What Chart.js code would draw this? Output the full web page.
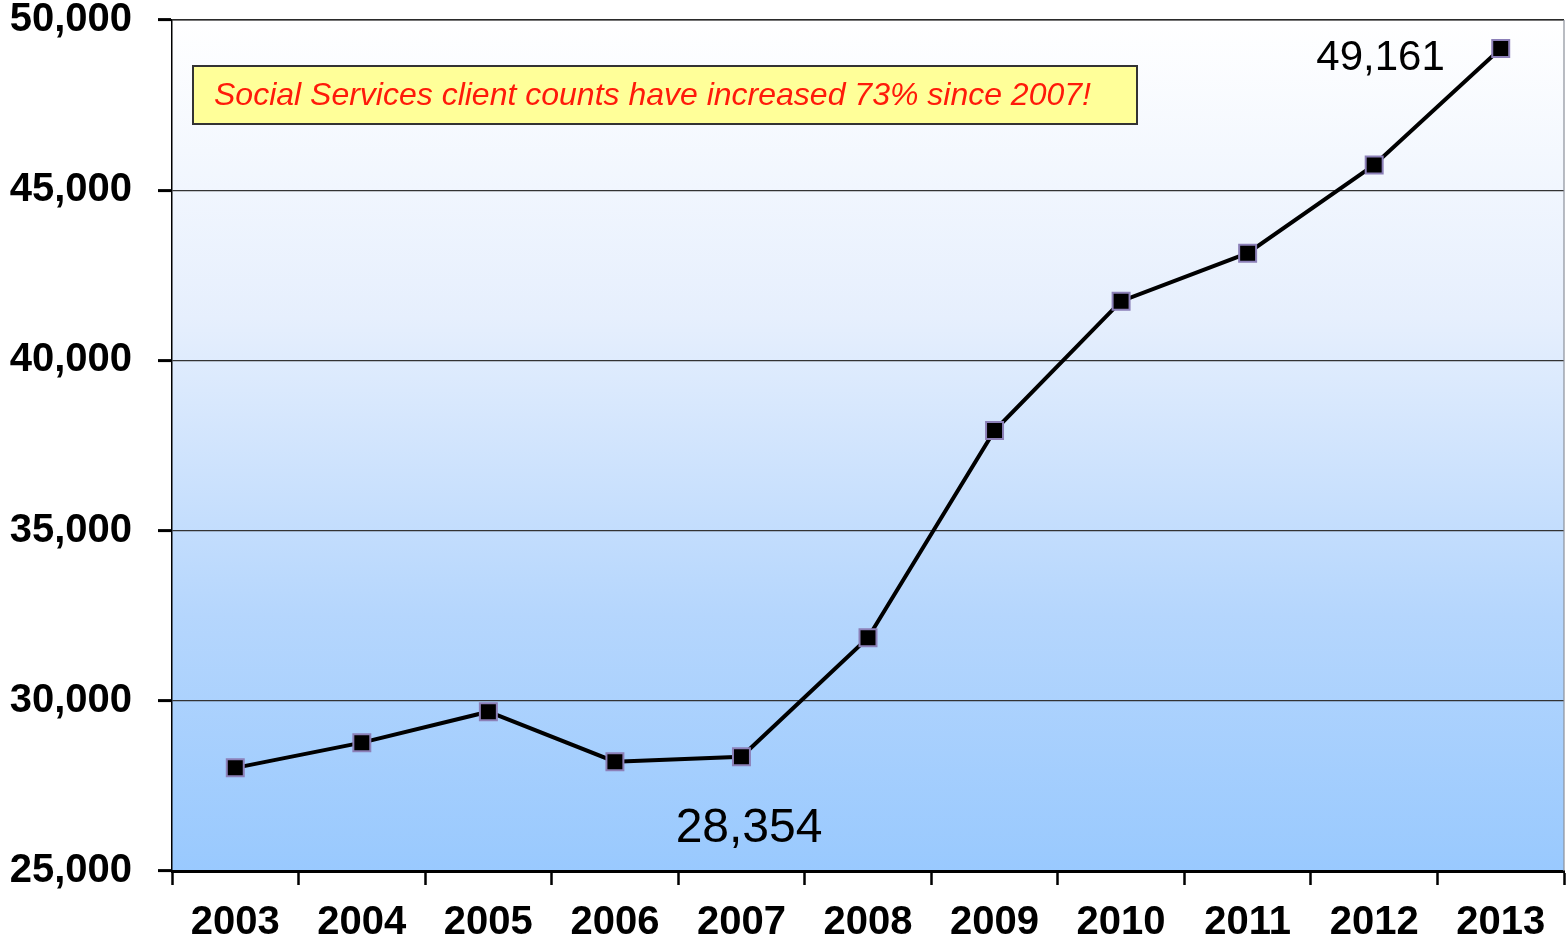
<!DOCTYPE html>
<html>
<head>
<meta charset="utf-8">
<script src="https://cdn.jsdelivr.net/npm/chart.js@4"></script>
<style>
  html, body { margin: 0; padding: 0; background: #fff; }
  #wrap { width: 1566px; height: 944px; }
</style>
</head>
<body>
<div id="wrap"><canvas id="chart" width="1566" height="944"></canvas></div>
<script>
// values
const years = ['2003', '2004', '2005', '2006', '2007', '2008', '2009', '2010', '2011', '2012', '2013'];
const clients = [28030, 28770, 29680, 28210, 28354, 31850, 37940, 41740, 43150, 45740, 49161];
const yTicks = [25000, 30000, 35000, 40000, 45000, 50000];

const noteText = 'Social Services client counts have increased 73% since 2007!';
// label text, position along the year axis (index), value height, font size
const callouts = [
    { text: '28,354', at: 4.06, value: 26250, size: 48 },
    { text: '49,161', at: 9.05, value: 48870, size: 42 }
];

const canvas = document.querySelector('#chart');

// blue gradient behind the plot
const backdrop = {
    id: 'backdrop',
    beforeDraw(chart) {
        const { ctx, chartArea: a } = chart;
        const g = ctx.createLinearGradient(0, a.top, 0, a.bottom);
        g.addColorStop(0, '#ffffff');
        g.addColorStop(0.35, '#e6effd');
        g.addColorStop(0.7, '#b5d6fd');
        g.addColorStop(1, '#99c9fe');
        ctx.save();
        ctx.fillStyle = g;
        ctx.fillRect(a.left, a.top, a.right - a.left, a.bottom - a.top);
        ctx.restore();
    }
};

// yellow note box and the two value labels
const notes = {
    id: 'notes',
    afterDraw(chart) {
        const { ctx, chartArea: a } = chart;
        const x = chart.scales.x, y = chart.scales.y;
        ctx.save();
        // top and right border of the plot
        ctx.strokeStyle = '#222';
        ctx.lineWidth = 1.2;
        ctx.beginPath();
        ctx.moveTo(a.left, a.top);
        ctx.lineTo(a.right, a.top);
        ctx.stroke();
        ctx.strokeStyle = '#8a8f99';
        ctx.beginPath();
        ctx.moveTo(a.right, a.top);
        ctx.lineTo(a.right, a.bottom);
        ctx.stroke();
        // note box
        const bx = 193, by = 66, bw = 944, bh = 58;
        ctx.fillStyle = '#ffff99';
        ctx.fillRect(bx, by, bw, bh);
        ctx.lineWidth = 2;
        ctx.strokeStyle = '#333333';
        ctx.strokeRect(bx, by, bw, bh);
        ctx.fillStyle = '#ff1a0a';
        ctx.font = 'italic 32px "Liberation Sans", Arial, sans-serif';
        ctx.textBaseline = 'middle';
        ctx.textAlign = 'left';
        ctx.fillText(noteText, 214, by + bh / 2 + 1);

        ctx.fillStyle = '#000';
        ctx.textAlign = 'center';
        callouts.forEach(c => {
            ctx.font = c.size + 'px "Liberation Sans", Arial, sans-serif';
            ctx.fillText(c.text, x.getPixelForValue(c.at), y.getPixelForValue(c.value));
        });
        ctx.restore();
    }
};

new Chart(canvas.getContext('2d'), {
    type: 'line',
    data: {
        labels: years,
        datasets: [{
            data: clients,
            borderColor: '#000',
            borderWidth: 4,
            tension: 0,
            pointStyle: 'rect',
            pointRadius: 12,
            pointBorderWidth: 2,
            pointBackgroundColor: '#000',
            pointBorderColor: '#8c80b8'
        }]
    },
    options: {
        responsive: false,
        animation: false,
        layout: { autoPadding: false, padding: { top: 20, right: 2, left: 0, bottom: 0 } },
        plugins: { legend: { display: false }, tooltip: { enabled: false } },
        scales: {
            x: {
                offset: true,
                grid: { offset: true, drawOnChartArea: false, drawTicks: true, tickLength: 14, tickWidth: 2.5, tickColor: '#000' },
                border: { color: '#000', width: 3 },
                ticks: {
                    color: '#000', padding: 14, maxRotation: 0,
                    font: { family: '"Liberation Sans", Arial, sans-serif', size: 40, weight: 'bold' }
                },
                afterFit(scale) {
                    scale.height = 73;
                    scale.paddingLeft = 0;
                    scale.paddingRight = 0;
                }
            },
            y: {
                min: 25000,
                max: 50000,
                afterBuildTicks(scale) { scale.ticks = yTicks.map(v => ({ value: v })); },
                grid: { color: '#333', lineWidth: 1.2, tickLength: 14, tickWidth: 3, tickColor: '#000' },
                border: { color: '#000', width: 1.5 },
                ticks: {
                    color: '#000', padding: 26,
                    font: { family: '"Liberation Sans", Arial, sans-serif', size: 40, weight: 'bold' },
                    callback: v => v.toLocaleString('en-US')
                },
                afterFit(scale) {
                    scale.width = 172;
                    scale.paddingTop = 0;
                    scale.paddingBottom = 0;
                }
            }
        }
    },
    plugins: [backdrop, notes]
});
</script>
</body>
</html>
